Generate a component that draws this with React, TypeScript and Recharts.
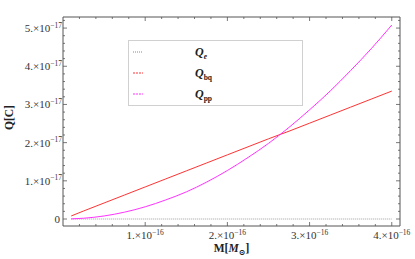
import React from "react";
import { LineChart, Line, XAxis, YAxis, Legend, Label } from "recharts";

const massValues = [0.1e-16, 0.25e-16, 0.5e-16, 0.75e-16, 1e-16, 1.25e-16, 1.5e-16, 1.75e-16, 2e-16, 2.25e-16, 2.5e-16, 2.75e-16, 3e-16, 3.25e-16, 3.5e-16, 3.75e-16, 4e-16];
const qeValues = [0, 0, 0, 0, 0, 0, 0, 0, 0, 0, 0, 0, 0, 0, 0, 0, 0];
const qbqValues = [0.08e-17, 0.21e-17, 0.42e-17, 0.63e-17, 0.84e-17, 1.05e-17, 1.26e-17, 1.47e-17, 1.68e-17, 1.89e-17, 2.1e-17, 2.3e-17, 2.51e-17, 2.72e-17, 2.93e-17, 3.14e-17, 3.35e-17];
const qppValues = [0.003e-17, 0.02e-17, 0.08e-17, 0.18e-17, 0.32e-17, 0.5e-17, 0.71e-17, 0.97e-17, 1.27e-17, 1.61e-17, 1.98e-17, 2.4e-17, 2.86e-17, 3.35e-17, 3.89e-17, 4.46e-17, 5.08e-17];

const xMajorTicks = [1e-16, 2e-16, 3e-16, 4e-16];
const xMajorLabels = ["1.", "2.", "3.", "4."];
const xExponent = "\u221216";
const yMajorTicks = [0, 1e-17, 2e-17, 3e-17, 4e-17, 5e-17];
const yMajorLabels = ["0", "1.", "2.", "3.", "4.", "5."];
const yExponent = "\u221217";

const xDomain = [0, 4.1e-16];
const yDomain = [-0.183e-17, 5.29e-17];

const data = massValues.map((m, i) => ({ m, qe: qeValues[i], qbq: qbqValues[i], qpp: qppValues[i] }));

const xTicks: number[] = [];
for (let i = 1; i <= 20; i++) xTicks.push((i * 0.2) * 1e-16);
const yTicks: number[] = [];
for (let i = 0; i <= 26; i++) yTicks.push((i * 0.2) * 1e-17);

const FONT = "Liberation Serif, DejaVu Serif, serif";
const FRAME = "#555";
const TXT = { fontFamily: FONT } as React.CSSProperties;

const majorIndex = (v: number, majors: number[], unit: number) =>
  majors.findIndex((t) => Math.abs(t - v) < unit * 0.01);

const BottomTick = (props: any) => {
  const { x, y, payload } = props;
  const idx = majorIndex(payload.value, xMajorTicks, 1e-16);
  const len = idx >= 0 ? 4 : 2;
  return (
    <g>
      <line x1={x} y1={y} x2={x} y2={y - len} stroke={FRAME} strokeWidth={0.8} />
      {idx >= 0 && (
        <text x={x} y={y + 13} textAnchor="middle" style={TXT} fontSize={11} fill="#333">
          <tspan>{xMajorLabels[idx]}×10</tspan>
          <tspan dy={-4.5} fontSize={7.5}>{xExponent}</tspan>
        </text>
      )}
    </g>
  );
};

const TopTick = (props: any) => {
  const { x, y, payload } = props;
  const idx = majorIndex(payload.value, xMajorTicks, 1e-16);
  const len = idx >= 0 ? 4 : 2;
  return <line x1={x} y1={y} x2={x} y2={y + len} stroke={FRAME} strokeWidth={0.8} />;
};

const LeftTick = (props: any) => {
  const { x, y, payload } = props;
  const idx = majorIndex(payload.value, yMajorTicks, 1e-17);
  const len = idx >= 0 ? 4 : 2;
  return (
    <g>
      <line x1={x} y1={y} x2={x + len} y2={y} stroke={FRAME} strokeWidth={0.8} />
      {idx >= 0 && (
        idx === 0 ? (
          <text x={x - 3} y={y + 4} textAnchor="end" style={TXT} fontSize={11} fill="#333">0</text>
        ) : (
          <text x={x - 1} y={y + 4} textAnchor="end" style={TXT} fontSize={11} fill="#333">
            <tspan>{yMajorLabels[idx]}×10</tspan>
            <tspan dy={-4.5} fontSize={7.5}>{yExponent}</tspan>
          </text>
        )
      )}
    </g>
  );
};

const RightTick = (props: any) => {
  const { x, y, payload } = props;
  const idx = majorIndex(payload.value, yMajorTicks, 1e-17);
  const len = idx >= 0 ? 4 : 2;
  return <line x1={x} y1={y} x2={x - len} y2={y} stroke={FRAME} strokeWidth={0.8} />;
};

const legendItems = [
  { key: "qe", color: "#888", dash: "1 1", sub: "e", subItalic: true },
  { key: "qbq", color: "#ff3333", dash: "2 1", sub: "bq", subItalic: false },
  { key: "qpp", color: "#ff33ff", dash: "2 1", sub: "pp", subItalic: false },
];

const LegendBox = () => (
  <div style={{ width: 175, height: 66, border: "1px solid #d0d0d0", boxSizing: "border-box", background: "#fff" }}>
    <svg width={173} height={64} style={{ display: "block" }}>
      {legendItems.map((it, i) => (
        <g key={it.key}>
          <line x1={4} x2={14} y1={11 + i * 21} y2={11 + i * 21} stroke={it.color} strokeWidth={1} strokeDasharray={it.dash} />
          <text x={66} y={15 + i * 21} style={TXT} fontSize={12} fontWeight="bold" fill="#222">
            <tspan fontStyle="italic">Q</tspan>
            <tspan dy={2.5} fontSize={7.5} fontStyle={it.subItalic ? "italic" : "normal"}>{it.sub}</tspan>
          </text>
        </g>
      ))}
    </svg>
  </div>
);

export default function App() {
  return (
    <div style={{ position: "absolute", left: 0, top: 0, width: 415, height: 259, background: "#fff" }}>
      <LineChart width={415} height={259} data={data} margin={{ top: 0, right: 0, bottom: 0, left: 0 }}>
        <XAxis
          xAxisId="bottom"
          dataKey="m"
          type="number"
          domain={xDomain}
          allowDataOverflow
          ticks={xTicks}
          interval={0}
          tick={<BottomTick />}
          tickLine={false}
          tickSize={0}
          tickMargin={0}
          height={33}
          axisLine={{ stroke: FRAME, strokeWidth: 1 }}
        >
          <Label
            content={(p: any) => {
              const vb = p.viewBox;
              return (
                <text x={vb.x + vb.width / 2} y={vb.y + 26} textAnchor="middle" style={TXT} fontSize={11.5} fontWeight="bold" fill="#222">
                  <tspan>M[</tspan>
                  <tspan fontStyle="italic">M</tspan>
                  <tspan dy={2.5} fontSize={8}>⊙</tspan>
                  <tspan dy={-2.5}>]</tspan>
                </text>
              );
            }}
          />
        </XAxis>
        <XAxis
          xAxisId="top"
          orientation="top"
          dataKey="m"
          type="number"
          domain={xDomain}
          allowDataOverflow
          ticks={xTicks}
          interval={0}
          tick={<TopTick />}
          tickLine={false}
          tickSize={0}
          tickMargin={0}
          height={17}
          axisLine={{ stroke: FRAME, strokeWidth: 1 }}
        />
        <YAxis
          yAxisId="left"
          type="number"
          domain={yDomain}
          allowDataOverflow
          ticks={yTicks}
          interval={0}
          tick={<LeftTick />}
          tickLine={false}
          tickSize={0}
          tickMargin={0}
          width={63}
          axisLine={{ stroke: FRAME, strokeWidth: 1 }}
        >
          <Label
            content={(p: any) => {
              const vb = p.viewBox;
              const cx = 13;
              const cy = vb.y + vb.height / 2 - 4;
              return (
                <text x={cx} y={cy} transform={`rotate(-90 ${cx} ${cy})`} textAnchor="middle" style={TXT} fontSize={11.5} fontWeight="bold" fill="#222">
                  Q[C]
                </text>
              );
            }}
          />
        </YAxis>
        <YAxis
          yAxisId="right"
          orientation="right"
          type="number"
          domain={yDomain}
          allowDataOverflow
          ticks={yTicks}
          interval={0}
          tick={<RightTick />}
          tickLine={false}
          tickSize={0}
          tickMargin={0}
          width={15}
          axisLine={{ stroke: FRAME, strokeWidth: 1 }}
        />
        <Legend
          layout="vertical"
          align="center"
          verticalAlign="middle"
          content={() => <LegendBox />}
          wrapperStyle={{ left: 128, top: 40, width: 175, height: 66 }}
        />
        <Line xAxisId="bottom" yAxisId="left" dataKey="qe" stroke="#888" strokeWidth={0.8} strokeDasharray="1 1" dot={false} isAnimationActive={false} />
        <Line xAxisId="bottom" yAxisId="left" dataKey="qbq" stroke="#ff3333" strokeWidth={1} dot={false} isAnimationActive={false} />
        <Line xAxisId="bottom" yAxisId="left" dataKey="qpp" type="monotone" stroke="#ff33ff" strokeWidth={1} dot={false} isAnimationActive={false} />
      </LineChart>
    </div>
  );
}
